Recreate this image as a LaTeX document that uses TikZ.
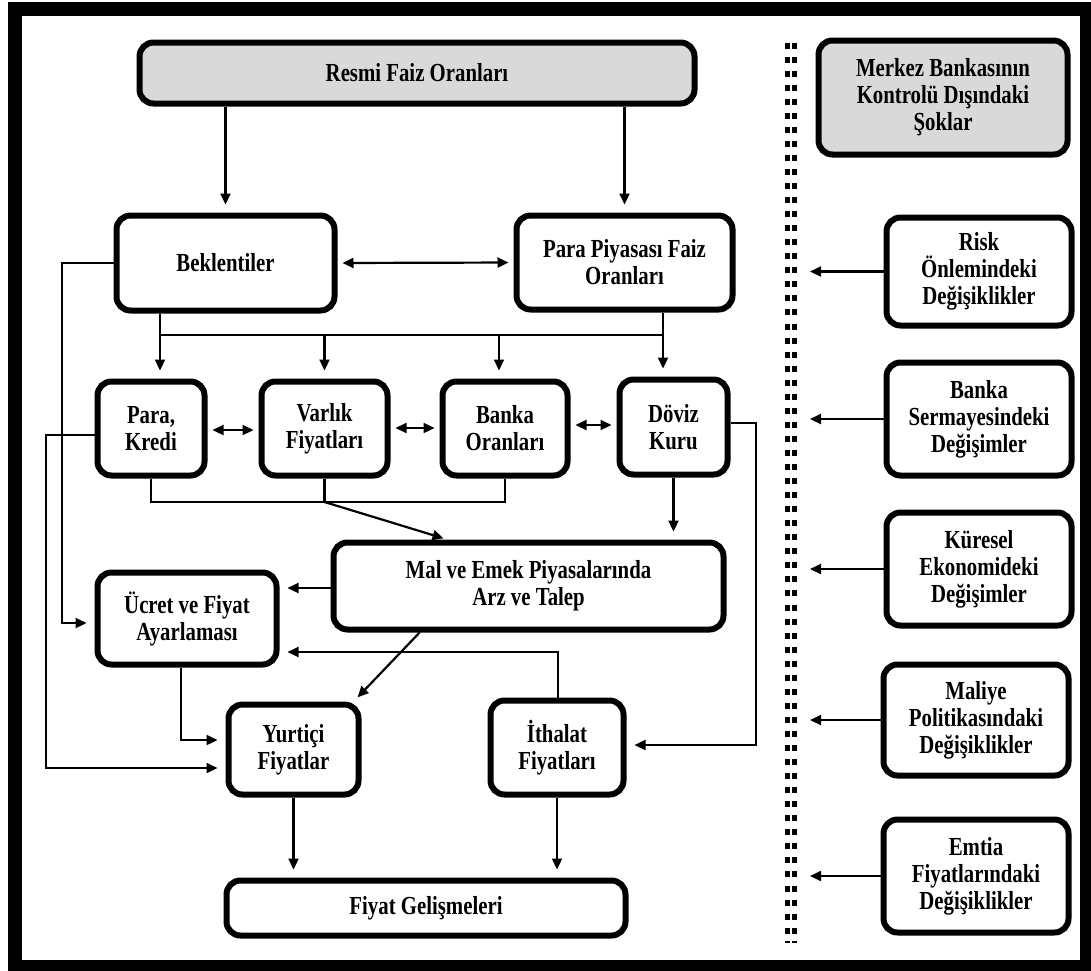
\documentclass[tikz,border=0pt]{standalone}
\usepackage{fontspec}
\setmainfont{Liberation Serif}[FakeStretch=0.8]
\usetikzlibrary{arrows.meta,calc}
\definecolor{boxgrey}{RGB}{217,217,217}
\begin{document}
\begin{tikzpicture}[x=1pt,y=-1pt,
  box/.style={draw, line width=6pt, rounded corners=14pt, align=center,
    font=\fontsize{26}{27}\selectfont\bfseries, inner sep=0pt},
  greybox/.style={fill=boxgrey},
  conn/.style={line width=2.2pt},
  arr/.style={conn, -{Triangle[length=11pt,width=10pt]}, shorten >=8pt},
  darr/.style={conn, {Triangle[length=11pt,width=10pt]}-{Triangle[length=11pt,width=10pt]}, shorten >=5pt, shorten <=5pt},
  sepdots/.style={line width=5pt, dash pattern=on 6pt off 8.05pt},
  frame/.style={line width=14pt}
]
\useasboundingbox (0,0) rectangle (1091,970);
\fill[white] (0,0) rectangle (1091,970);
\draw[frame] (14.5,9) rectangle (1087,967);

% separator
\draw[sepdots] (787,42.5) -- (787,934);
\draw[sepdots] (794.5,42.5) -- (794.5,934);
\draw[line width=2pt] (784.5,942) -- (789.5,942);
\draw[line width=2pt] (792,942) -- (797,942);
\coordinate (sepR) at (810,0);

% left side nodes
\node[box,greybox,minimum width=555pt,minimum height=61pt] (resmi) at (417,73) {Resmi Faiz Oranları};
\node[box,minimum width=218pt,minimum height=95pt] (bek) at (225.5,263) {Beklentiler};
\node[box,minimum width=216pt,minimum height=94pt] (ppf) at (624.5,262.5) {Para Piyasası Faiz\\Oranları};
\node[box,minimum width=107pt,minimum height=94pt] (para) at (151,428.5) {Para,\\Kredi};
\node[box,minimum width=126pt,minimum height=94pt] (varlik) at (324.5,428.5) {Varlık\\Fiyatları};
\node[box,minimum width=125pt,minimum height=94pt] (banka) at (505,428.5) {Banka\\Oranları};
\node[box,minimum width=108pt,minimum height=95pt] (doviz) at (673.5,427) {Döviz\\Kuru};
\node[box,minimum width=390pt,minimum height=87pt] (mal) at (528.5,586) {Mal ve Emek Piyasalarında\\Arz ve Talep};
\node[box,minimum width=179pt,minimum height=92pt] (ucret) at (187,618.5) {Ücret ve Fiyat\\Ayarlaması};
\node[box,minimum width=130pt,minimum height=90pt] (yurtici) at (293.5,749.5) {Yurtiçi\\Fiyatlar};
\node[box,minimum width=133pt,minimum height=94pt] (ithalat) at (557,747.5) {İthalat\\Fiyatları};
\node[box,minimum width=399pt,minimum height=55pt] (fiyat) at (426,908) {Fiyat Gelişmeleri};

% right side nodes
\node[box,greybox,minimum width=249pt,minimum height=114pt] (merkez) at (943,97.5) {Merkez Bankasının\\Kontrolü Dışındaki\\Şoklar};
\node[box,minimum width=185pt,minimum height=108pt] (risk) at (979,271.5) {Risk\\Önlemindeki\\Değişiklikler};
\node[box,minimum width=185pt,minimum height=113pt] (sermaye) at (979,419) {Banka\\Sermayesindeki\\Değişimler};
\node[box,minimum width=185pt,minimum height=113pt] (kuresel) at (979,569) {Küresel\\Ekonomideki\\Değişimler};
\node[box,minimum width=185pt,minimum height=111pt] (maliye) at (976,720) {Maliye\\Politikasındaki\\Değişiklikler};
\node[box,minimum width=185pt,minimum height=113pt] (emtia) at (976,876) {Emtia\\Fiyatlarındaki\\Değişiklikler};

% right arrows
\foreach \n in {risk,sermaye,kuresel,maliye,emtia}
  \draw[conn,-{Triangle[length=11pt,width=10pt]}] (\n.west) -- (\n.west -| sepR);

% coordinates
\coordinate (busL) at (160,335);
\coordinate (busR) at (663,335);
\coordinate (busB) at (499,335);
\coordinate (brk) at (323,502);
\coordinate (lx1) at (62,623);
\coordinate (rx) at (756,745);
\coordinate (fb) at (558,652);
\coordinate (u2) at (181,740);
\coordinate (pk) at (46,768);

% connectors
\draw[arr] (bek.north |- resmi.south) -- (bek.north);
\draw[arr] (ppf.north |- resmi.south) -- (ppf.north);
\draw[darr] (bek.east) -- (ppf.west);
\draw[arr] (bek.west) -| (lx1) -- (ucret.west |- lx1);
\draw[conn] (busL |- bek.south) -- (busL) -- (busR);
\draw[arr] (busR |- ppf.south) -- (busR |- doviz.north);
\draw[arr] (busL) -- (busL |- para.north);
\draw[arr] (varlik.north |- busL) -- (varlik.north);
\draw[arr] (busB) -- (busB |- banka.north);
\draw[darr] (para.east |- 0,430) -- (varlik.west |- 0,430);
\draw[darr] (varlik.east |- 0,428) -- (banka.west |- 0,428);
\draw[darr] (banka.east |- 0,425) -- (doviz.west |- 0,425);
\draw[conn] (para.south) -- (para.south |- brk) -- (banka.south |- brk) -- (banka.south);
\draw[conn] (varlik.south) -- (varlik.south |- brk);
\draw[arr, shorten >=4pt] (varlik.south |- brk) -- ($(mal.north west)!0.295!(mal.north east)$);
\draw[arr] (doviz.south) -- (doviz.south |- mal.north);
\draw[arr] (doviz.east |- 0,423) -| (rx) -- (ithalat.east |- rx);
\draw[arr] (mal.west |- 0,588) -- (ucret.east |- 0,588);
\draw[arr] (ithalat.north -| fb) -- (fb) -- (ucret.east |- fb);
\draw[arr, shorten >=3pt] ($(mal.south west)!0.225!(mal.south east)$) -- ($(yurtici.north east)+(-6,-2)$);
\draw[arr] (ucret.south -| u2) -- (u2) -- (yurtici.west |- u2);
\draw[arr] (para.west |- 0,435) -| (pk) -- (yurtici.west |- pk);
\draw[arr] (yurtici.south) -- (yurtici.south |- fiyat.north);
\draw[arr] (ithalat.south) -- (ithalat.south |- fiyat.north);
\end{tikzpicture}
\end{document}
